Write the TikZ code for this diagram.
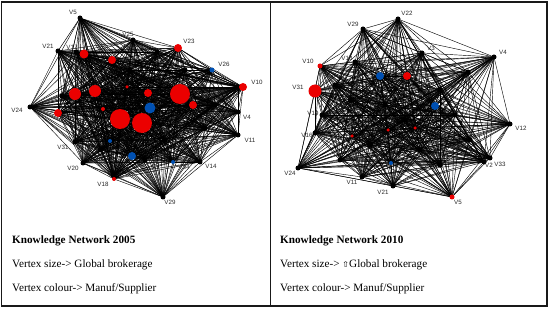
\documentclass[tikz,border=0pt]{standalone}
\usepackage{fontspec}
\setmainfont{Liberation Serif}
\setsansfont{Liberation Sans}
\newfontfamily\symfont{DejaVu Sans}
\usetikzlibrary{backgrounds}

\begin{document}
\begin{tikzpicture}[x=1pt,y=-1pt]
\tikzset{
  hub/.style={circle, fill=black, inner sep=0pt, minimum size=5pt},
  redv/.style={circle, fill=red!92!black, inner sep=0pt},
  bluev/.style={circle, fill=blue!55!cyan!70!black, inner sep=0pt},
  vlabel/.style={font=\sffamily\fontsize{6.2}{7}\selectfont, inner sep=0pt, text=black!85},
  edge/.style={line width=0.42pt, draw=black},
  caption/.style={font=\fontsize{11.2}{13}\selectfont, anchor=west, inner sep=0pt},
  frame/.style={line width=1.3pt, draw=black!90}
}
\useasboundingbox (0,0) rectangle (550,310);

% 2005 network
\node[hub] (a5) at (80,18) {};
\node[hub] (a25) at (133,40) {};
\node[hub] (a21) at (58,51) {};
\node[hub] (a17) at (76,52) {};
\node[hub] (a10) at (238,87) {};
\node[hub] (a24) at (30,107) {};
\node[hub] (a4) at (238,112) {};
\node[hub] (a11) at (238,135) {};
\node[hub] (a31) at (75,142) {};
\node[hub] (a20) at (83,163) {};
\node[hub] (a14) at (200,162) {};
\node[hub] (a18) at (113,175) {};
\node[hub] (a29) at (163,197) {};
\node[hub] (ah1) at (157,52) {};
\node[hub] (ah2) at (185,70) {};
\node[hub] (ah3) at (205,128) {};
\node[hub] (ah4) at (145,160) {};
\node[hub] (ah5) at (100,150) {};
\node[hub] (ah6) at (62,96) {};
\node[hub] (ah7) at (165,140) {};
\node[hub] (ah8) at (130,70) {};
\node[hub] (ah9) at (215,105) {};
\node[redv, minimum size=8pt] (a23) at (178,48) {};
\node[redv, minimum size=9pt] (ar1) at (84,54) {};
\node[redv, minimum size=8pt] (ar2) at (112,60) {};
\node[redv, minimum size=20pt] (ar3) at (180,94) {};
\node[redv, minimum size=8pt] (ar4) at (193,105) {};
\node[redv, minimum size=8pt] (ar5) at (148,93) {};
\node[redv, minimum size=3.5pt] (ar6) at (127,87) {};
\node[redv, minimum size=12pt] (ar7) at (75,94) {};
\node[redv, minimum size=12pt] (ar8) at (95,91) {};
\node[redv, minimum size=8pt] (ar9) at (58,113) {};
\node[redv, minimum size=4pt] (ar10) at (103,109) {};
\node[redv, minimum size=20pt] (ar11) at (120,119) {};
\node[redv, minimum size=20pt] (ar12) at (142,123) {};
\node[redv, minimum size=8pt] (ar13) at (243,87) {};
\node[redv, minimum size=4pt] (ar14) at (114,179) {};
\node[bluev, minimum size=11pt] (ab1) at (150,108) {};
\node[bluev, minimum size=4pt] (ab2) at (110,141) {};
\node[bluev, minimum size=8pt] (ab3) at (132,156) {};
\node[bluev, minimum size=5pt] (a26) at (212,70) {};
\node[bluev, minimum size=4pt] (a34) at (173,162) {};

\node[vlabel] (a5l) at (73,12) {V5};
\node[vlabel] (a25l) at (128,34) {V25};
\node[vlabel] (a23l) at (189,41) {V23};
\node[vlabel] (a21l) at (48,46) {V21};
\node[vlabel] (a17l) at (72,47) {V17};
\node[vlabel] (a26l) at (224,64) {V26};
\node[vlabel] (a10l) at (257,82) {V10};
\node[vlabel] (a24l) at (17,110) {V24};
\node[vlabel] (a4l) at (247,117) {V4};
\node[vlabel] (a11l) at (250,140) {V11};
\node[vlabel] (a31l) at (63,147) {V31};
\node[vlabel] (a20l) at (73,168) {V20};
\node[vlabel] (a34l) at (184,167) {V34};
\node[vlabel] (a14l) at (211,166) {V14};
\node[vlabel] (a18l) at (103,184) {V18};
\node[vlabel] (a29l) at (170,202) {V29};

% 2010 network
\node[hub] (c22) at (398,19) {};
\node[hub] (c29) at (363,29) {};
\node[hub] (c4) at (494,57) {};
\node[hub] (c3) at (422,53) {};
\node[hub] (c18) at (355,62) {};
\node[hub] (c19) at (322,115) {};
\node[hub] (c16) at (315,133) {};
\node[hub] (c12) at (510,124) {};
\node[hub] (c24) at (298,168) {};
\node[hub] (c11) at (362,177) {};
\node[hub] (c21) at (393,186) {};
\node[hub] (c2) at (484,162) {};
\node[hub] (c33) at (490,158) {};
\node[hub] (ch1) at (468,72) {};
\node[hub] (ch2) at (440,90) {};
\node[hub] (ch3) at (350,100) {};
\node[hub] (ch4) at (470,140) {};
\node[hub] (ch5) at (420,150) {};
\node[hub] (ch6) at (340,160) {};
\node[hub] (ch7) at (385,105) {};
\node[hub] (ch8) at (405,120) {};
\node[hub] (ch9) at (455,115) {};
\node[hub] (ch10) at (335,85) {};
\node[hub] (ch11) at (370,145) {};
\node[hub] (ch12) at (440,165) {};
\node[redv, minimum size=5pt] (c10) at (320,66) {};
\node[redv, minimum size=13pt] (c31) at (315,91) {};
\node[redv, minimum size=5pt] (c5) at (452,197) {};
\node[redv, minimum size=8pt] (cr1) at (407,76) {};
\node[redv, minimum size=3.5pt] (cr2) at (352,136) {};
\node[redv, minimum size=3.5pt] (cr3) at (388,130) {};
\node[redv, minimum size=3.5pt] (cr4) at (415,128) {};
\node[bluev, minimum size=8pt] (cb1) at (380,76) {};
\node[bluev, minimum size=8pt] (cb2) at (435,106) {};
\node[bluev, minimum size=4pt] (cb3) at (391,163) {};

\node[vlabel] (c22l) at (407,13) {V22};
\node[vlabel] (c29l) at (353,24) {V29};
\node[vlabel] (c3l) at (431,48) {V3};
\node[vlabel] (c4l) at (503,52) {V4};
\node[vlabel] (c10l) at (308,61) {V10};
\node[vlabel] (c18l) at (347,58) {V18};
\node[vlabel] (c31l) at (298,87) {V31};
\node[vlabel] (c19l) at (313,113) {V19};
\node[vlabel] (c16l) at (307,135) {V16};
\node[vlabel] (c12l) at (521,128) {V12};
\node[vlabel] (c2l) at (489,165) {V2};
\node[vlabel] (c33l) at (500,164) {V33};
\node[vlabel] (c24l) at (290,173) {V24};
\node[vlabel] (c11l) at (352,182) {V11};
\node[vlabel] (c21l) at (383,192) {V21};
\node[vlabel] (c5l) at (458,202) {V5};

\begin{scope}[on background layer]
\foreach \a [count=\i] in {a5,a25,a21,a17,a10,a24,a4,a11,a31,a20,a14,a18,a29,ah1,ah2,ah3,ah4,ah5,ah6,ah7,ah8,ah9,a23,ar1,ar2,ar3,ar4,ar5,ar6,ar7,ar8,ar9,ar10,ar11,ar12,ar13,ar14,ab1,ab2,ab3,a26,a34}
  \foreach \b [count=\j] in {a5,a25,a21,a17,a10,a24,a4,a11,a31,a20,a14,a18,a29,ah1,ah2,ah3,ah4,ah5,ah6,ah7,ah8,ah9,a23,ar1,ar2,ar3,ar4,ar5,ar6,ar7,ar8,ar9,ar10,ar11,ar12,ar13,ar14,ab1,ab2,ab3,a26,a34}
    {\ifnum\j>\i \draw[edge] (\a.center) -- (\b.center); \fi}
\foreach \a [count=\i] in {c22,c29,c4,c3,c18,c19,c16,c12,c24,c11,c21,c2,c33,ch1,ch2,ch3,ch4,ch5,ch6,ch7,ch8,ch9,ch10,ch11,ch12,c10,c31,c5,cr1,cr2,cr3,cr4,cb1,cb2,cb3}
  \foreach \b [count=\j] in {c22,c29,c4,c3,c18,c19,c16,c12,c24,c11,c21,c2,c33,ch1,ch2,ch3,ch4,ch5,ch6,ch7,ch8,ch9,ch10,ch11,ch12,c10,c31,c5,cr1,cr2,cr3,cr4,cb1,cb2,cb3}
    {\ifnum\j>\i \draw[edge] (\a.center) -- (\b.center); \fi}
\end{scope}

\node[caption, font=\bfseries\fontsize{11.2}{13}\selectfont] (t1) at (12,241) {Knowledge Network 2005};
\node[caption] (t2) at (12,265) {Vertex size-> Global brokerage};
\node[caption] (t3) at (12,289) {Vertex colour-> Manuf/Supplier};
\node[caption, font=\bfseries\fontsize{11.2}{13}\selectfont] (u1) at (280,241) {Knowledge Network 2010};
\node[caption] (u2) at (280,265) {Vertex size-> {\symfont\fontsize{8}{9}\selectfont ⇧}Global brokerage};
\node[caption] (u3) at (280,289) {Vertex colour-> Manuf/Supplier};

\draw[frame] (1.5,2) rectangle (547,306);
\draw[frame] (270.5,2) -- (270.5,306);
\end{tikzpicture}
\end{document}
